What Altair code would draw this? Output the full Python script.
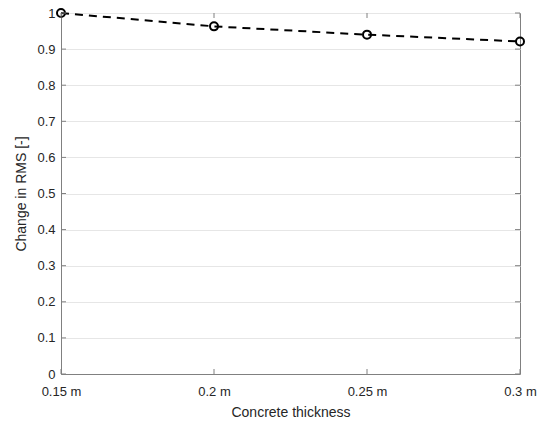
import altair as alt
import pandas as pd

thickness = [0.15, 0.2, 0.25, 0.3]
rms_change = [1.0, 0.963, 0.94, 0.921]
x_ticks = [0.15, 0.2, 0.25, 0.3]
y_ticks = [0, 0.1, 0.2, 0.3, 0.4, 0.5, 0.6, 0.7, 0.8, 0.9, 1.0]

df = pd.DataFrame({"t": thickness, "r": rms_change})
dfx = pd.DataFrame({"t": x_ticks})
dfy = pd.DataFrame({"r": y_ticks})

W, H = 459, 361
FONT = "Liberation Sans"
AX = "#808080"

xscale = alt.Scale(domain=[0.15, 0.3], nice=False, zero=False)
yscale = alt.Scale(domain=[0, 1], nice=False)

xaxis = alt.Axis(values=x_ticks, labelExpr="format(datum.value, '.2~f') + ' m'",
                 title="Concrete thickness", grid=False, tickSize=0, labelPadding=11,
                 titlePadding=7, domainColor=AX, labelFlush=False, labelOverlap=False)
yaxis = alt.Axis(values=y_ticks, format=".1~f", title="Change in RMS [-]", grid=True,
                 gridColor="#e6e6e6", tickSize=0, labelPadding=6, titlePadding=8,
                 domainColor=AX, labelFlush=False, labelOverlap=False, labelBound=False)

X = lambda: alt.X("t:Q", scale=xscale, axis=xaxis, title="Concrete thickness")
Y = lambda: alt.Y("r:Q", scale=yscale, axis=yaxis, title="Change in RMS [-]")

base = alt.Chart(df)
line = base.mark_line(color="black", strokeWidth=2, strokeDash=[8, 6]).encode(x=X(), y=Y())
pts = base.mark_point(shape="circle", filled=False, color="black", strokeWidth=2, size=64,
                      opacity=1).encode(x=X(), y=Y())

xt_bottom = alt.Chart(dfx).mark_rule(color=AX, strokeWidth=1).encode(
    x=X(), y=alt.value(H), y2=alt.value(H - 5))
xt_top = alt.Chart(dfx).mark_rule(color=AX, strokeWidth=1).encode(
    x=X(), y=alt.value(0), y2=alt.value(5))
yt_left = alt.Chart(dfy).mark_rule(color=AX, strokeWidth=1).encode(
    y=Y(), x=alt.value(0), x2=alt.value(5))
yt_right = alt.Chart(dfy).mark_rule(color=AX, strokeWidth=1).encode(
    y=Y(), x=alt.value(W), x2=alt.value(W - 5))

chart = alt.layer(line, pts, xt_bottom, xt_top, yt_left, yt_right).properties(
    width=W, height=H,
    autosize=alt.AutoSizeParams(type="none"),
    padding={"left": 53, "top": 5, "right": 19, "bottom": 44},
).configure_view(stroke=AX, strokeWidth=1).configure_axis(
    labelFont=FONT, titleFont=FONT, labelFontSize=13, titleFontSize=14,
    labelColor="#262626", titleColor="#262626", titleFontWeight="normal",
)

chart.save("out.html", embed_options={"renderer": "svg", "actions": False})
